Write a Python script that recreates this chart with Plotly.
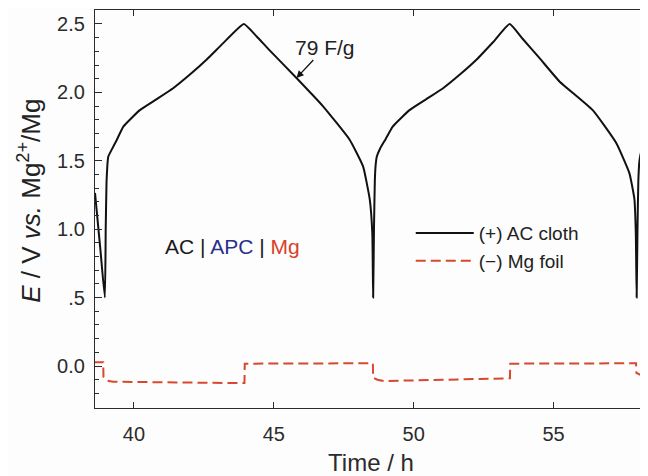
import plotly.graph_objects as go

# (+) AC cloth potential
t_ac = [38.607, 38.80, 38.96, 38.99, 39.02, 39.05, 39.08, 39.20, 39.38, 39.62, 40.21, 40.81,
        41.40, 42.00, 42.60, 43.19, 43.93, 44.38, 44.86, 45.81, 46.76, 47.71, 48.19, 48.43,
        48.52, 48.55, 48.58, 48.61, 48.64, 48.68, 48.80, 49.00, 49.25, 49.85, 50.45, 51.05,
        51.65, 52.25, 52.85, 53.43, 53.90, 54.50, 55.21, 56.40, 57.24, 57.71, 57.89, 57.94,
        57.97, 58.00, 58.03, 58.07, 58.15, 58.40]
v_ac = [1.265, 0.85, 0.50, 1.00, 1.35, 1.47, 1.53, 1.58, 1.65, 1.75, 1.87, 1.95,
        2.03, 2.13, 2.24, 2.36, 2.50, 2.41, 2.305, 2.105, 1.898, 1.654, 1.459, 1.216,
        0.972, 0.50, 1.00, 1.35, 1.47, 1.53, 1.59, 1.66, 1.75, 1.87, 1.95, 2.03,
        2.13, 2.24, 2.37, 2.50, 2.39, 2.25, 2.08, 1.87, 1.63, 1.41, 1.22, 0.97,
        0.50, 1.00, 1.35, 1.50, 1.58, 1.71]

# (-) Mg foil potential
t_mg = [38.55, 38.90, 38.91, 39.00, 39.10, 39.25, 41.50, 43.95, 43.96, 46.00, 48.54, 48.55,
        48.70, 48.93, 51.00, 53.44, 53.45, 55.50, 57.95, 57.96, 58.10, 58.40]
v_mg = [0.027, 0.027, -0.08, -0.10, -0.11, -0.115, -0.12, -0.125, 0.017, 0.02, 0.02, -0.085,
        -0.10, -0.11, -0.10, -0.09, 0.017, 0.02, 0.02, -0.05, -0.065, -0.075]

x_ticks = [40, 45, 50, 55]
y_tickvals = [0.0, 0.5, 1.0, 1.5, 2.0, 2.5]
y_ticktext = ["0.0", ".5", "1.0", "1.5", "2.0", "2.5"]

FONT = "Liberation Sans, Arial, sans-serif"
AXC = "#2b2b2b"

fig = go.Figure()
fig.add_trace(go.Scatter(x=t_ac, y=v_ac, mode="lines", name="(+) AC cloth",
                         line=dict(color="#111111", width=2, shape="spline", smoothing=0.4)))
fig.add_trace(go.Scatter(x=t_mg, y=v_mg, mode="lines", name="(\u2212) Mg foil",
                         line=dict(color="#d8472f", width=2, dash="10px,5px")))

# page body has an 8px margin, so the figure is 640x468 inside the 648x476 window
fig.update_layout(
    width=640, height=468,
    margin=dict(l=87, r=1, t=2, b=68, autoexpand=False),
    paper_bgcolor="#fdfdfd", plot_bgcolor="#fdfdfd",
    font=dict(family=FONT, size=20, color=AXC),
    showlegend=True,
    legend=dict(x=0.572, y=0.487, xanchor="left", yanchor="top",
                bgcolor="rgba(0,0,0,0)", font=dict(size=19, color="#222"),
                itemwidth=58, tracegroupgap=0),
)

fig.update_xaxes(
    range=[38.607, 58.34], tickvals=x_ticks, ticks="inside", ticklen=6,
    tickcolor=AXC, showline=True, linecolor=AXC, linewidth=1.2, mirror="ticks",
    showgrid=False, zeroline=False, tickfont=dict(size=20), automargin=False,
    ticklabelstandoff=8,
    title=dict(text="Time / h", font=dict(size=24), standoff=12),
)
fig.update_yaxes(
    range=[-0.307, 2.602], tickvals=y_tickvals, ticktext=y_ticktext, ticks="inside",
    ticklen=7, tickcolor=AXC, showline=True, linecolor=AXC, linewidth=1.2,
    mirror="ticks", showgrid=False, zeroline=False, tickfont=dict(size=20), automargin=False,
    ticklabelstandoff=5,
    minor=dict(tickvals=[round(-0.3 + 0.1 * i, 1) for i in range(30)], ticks="inside",
               ticklen=4, tickcolor=AXC, showgrid=False),
)

fig.add_annotation(xref="paper", yref="paper", x=-0.12, y=0.52, textangle=-90,
                   xanchor="center", yanchor="middle", showarrow=False,
                   text="<i>E</i> / V <i>vs.</i> Mg<sup>2+</sup>/Mg",
                   font=dict(size=26, color="#222"))
fig.add_annotation(x=45.81, y=2.105, ax=29, ay=-31, text="79 F/g", showarrow=True,
                   arrowhead=2, arrowsize=1.1, arrowwidth=1.3, arrowcolor="#111",
                   font=dict(size=21, color="#222"))
fig.add_annotation(x=43.52, y=0.874, showarrow=False, font=dict(size=21),
                   text="<span style='color:#1a1a1a'>AC | </span>"
                        "<span style='color:#2a2f8c'>APC</span>"
                        "<span style='color:#1a1a1a'> | </span>"
                        "<span style='color:#d8412b'>Mg</span>")

fig.write_html("out.html")
